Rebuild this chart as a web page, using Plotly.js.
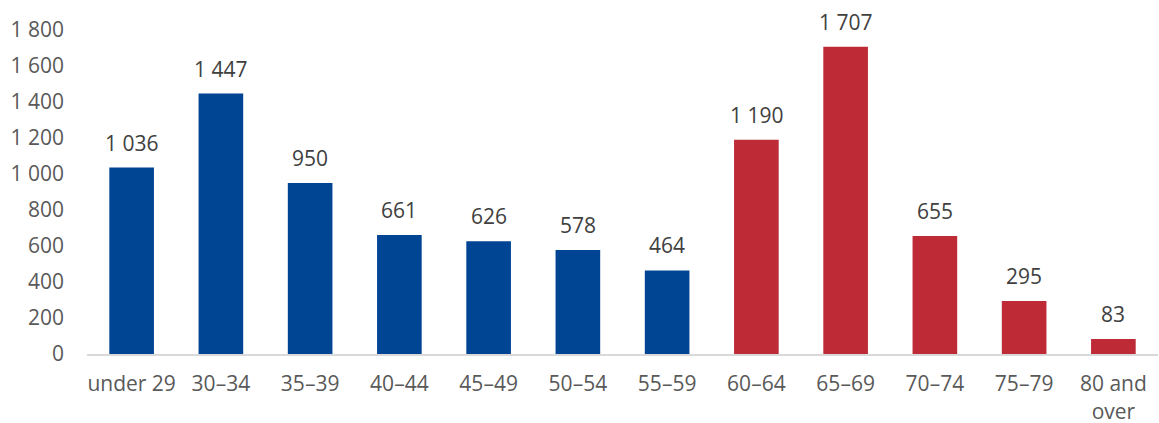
<!DOCTYPE html>
<html><head><meta charset="utf-8">
<script src="https://cdn.plot.ly/plotly-3.0.1.min.js"></script>
<style>body{margin:0;padding:0;background:#fff}#chart{width:1159px;height:423px}</style>
</head><body><div id="chart"></div>
<script>
const categories = ["under 29","30–34","35–39","40–44","45–49","50–54","55–59","60–64","65–69","70–74","75–79","80 and<br>over"];
const values = [1036,1447,950,661,626,578,464,1190,1707,655,295,83];
const groups = ["blue","blue","blue","blue","blue","blue","blue","red","red","red","red","red"];
const yTicks = [0,200,400,600,800,1000,1200,1400,1600,1800];
const colorMap = {blue:"#004494", red:"#BE2A35"};

const fmt = v => String(v).replace(/\B(?=(\d{3})+(?!\d))/g, " ");

Plotly.newPlot("chart", [{
  type: "bar",
  x: categories,
  y: values,
  marker: {color: groups.map(g => colorMap[g])},
  cliponaxis: false,
  hoverinfo: "none"
}], {
  width: 1159, height: 423,
  margin: {l: 87, r: 1, t: 30, b: 69},
  separators: ". ",
  bargap: 0.5,
  showlegend: false,
  paper_bgcolor: "#fff", plot_bgcolor: "#fff",
  font: {family: "Open Sans, sans-serif", size: 21, color: "#595959"},
  annotations: categories.map((c, i) => ({
    x: c, y: values[i], xref: "x", yref: "y",
    text: fmt(values[i]), showarrow: false,
    yanchor: "bottom", yshift: 9,
    font: {family: "Open Sans, sans-serif", size: 21, color: "#404040"}
  })),
  xaxis: {
    showline: true, linecolor: "#d9d9d9", linewidth: 2,
    ticks: "", showgrid: false, ticklabelstandoff: 10,
    tickfont: {size: 21, color: "#595959"}
  },
  yaxis: {
    range: [0, 1800], tickvals: yTicks, tickformat: ",d",
    showgrid: false, zeroline: false, showline: false, ticks: "",
    ticklabelstandoff: 22,
    tickfont: {size: 21, color: "#595959"}
  }
}, {displayModeBar: false, staticPlot: true});
</script></body></html>
